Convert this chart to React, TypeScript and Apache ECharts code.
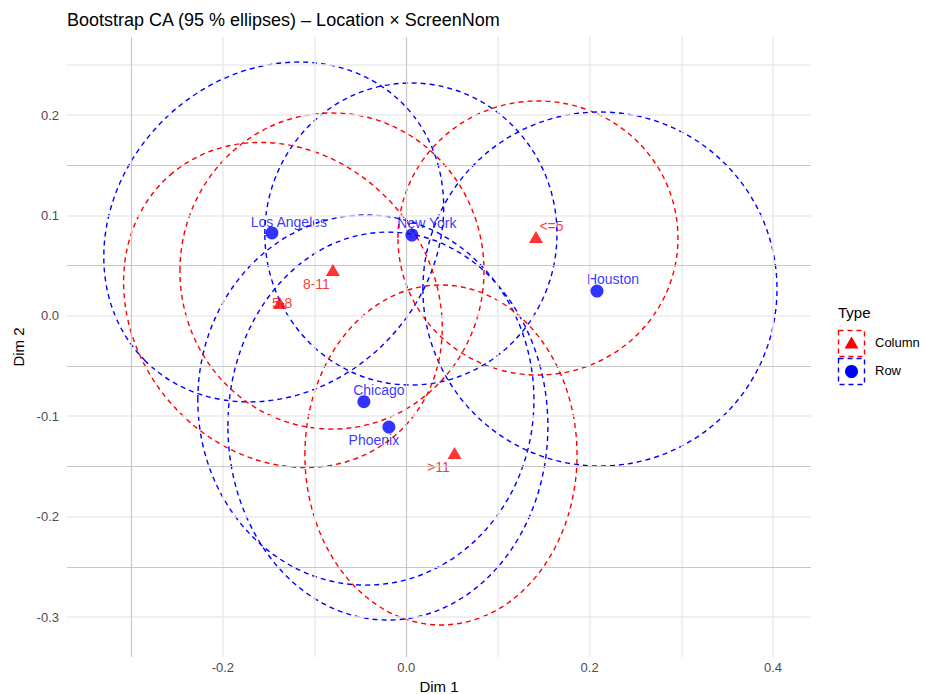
import React, { useEffect, useRef } from 'react';
import * as echarts from 'echarts';

// ---- Data ----
const rowNames = ['Los Angeles', 'New York', 'Houston', 'Chicago', 'Phoenix'];
const rowDim1 = [-0.1465, 0.0062, 0.2081, -0.0462, -0.0189];
const rowDim2 = [0.0825, 0.0805, 0.0247, -0.0855, -0.1108];

const colNames = ['<=5', '8-11', '5-8', '>11'];
const colDim1 = [0.1415, -0.08, -0.138, 0.0527];
const colDim2 = [0.0785, 0.0456, 0.0128, -0.1367];

// 95% bootstrap ellipses: centre, semi-axes (data units), rotation (deg)
const rowEllCx = [-0.1445, 0.0051, 0.2113, -0.044, -0.02];
const rowEllCy = [0.0835, 0.0815, 0.0267, -0.0839, -0.1098];
const rowEllRx = [0.1985, 0.1593, 0.1931, 0.1833, 0.1745];
const rowEllRy = [0.1564, 0.1504, 0.1763, 0.1843, 0.1932];
const rowEllAngle = [45, 0, 0, 0, 0];

const colEllCx = [0.1437, -0.081, -0.1345, 0.0379];
const colEllCy = [0.0775, 0.0446, 0.0108, -0.1386];
const colEllRx = [0.1527, 0.1658, 0.1876, 0.1484];
const colEllRy = [0.1365, 0.1574, 0.1484, 0.1693];
const colEllAngle = [0, 0, -49, 0];

const xTickLabels = [-0.2, 0.0, 0.2, 0.4];
const yTickLabels = [-0.3, -0.2, -0.1, 0.0, 0.1, 0.2];
const gridXLight = [-0.2, -0.1, 0.1, 0.2, 0.3, 0.4];
const gridXDark = [-0.3, 0.0];
const gridYLight = [0.25, 0.2, 0.1, 0.0, -0.1, -0.2, -0.3];
const gridYDark = [0.15, 0.05, -0.05, -0.15, -0.25];

// ---- Layout / style ----
const rowLabelOffsets = [[17, -11], [15, -12], [16, -12], [15, -12], [-15, 13]];
const colLabelOffsets = [[15.5, -11], [-16.5, 14], [2.5, 0], [-16, 14]];
const FONT = "'Liberation Sans', Arial, Helvetica, sans-serif";
const BLUE = '#0000FF';
const RED = '#FF0000';

function ellipseSeries(name: string, color: string, cx: number[], cy: number[], rx: number[], ry: number[], ang: number[]) {
  return {
    type: 'custom',
    name,
    z: 3,
    silent: true,
    clip: true,
    data: cx.map((v, i) => [v, cy[i], rx[i], ry[i], ang[i]]),
    renderItem: (params: any, api: any) => {
      const c = api.coord([api.value(0), api.value(1)]);
      const s = api.size([api.value(2), api.value(3)]);
      return {
        type: 'ellipse',
        x: c[0],
        y: c[1],
        rotation: (api.value(4) * Math.PI) / 180,
        shape: { cx: 0, cy: 0, rx: s[0], ry: s[1] },
        style: { fill: 'none', stroke: color, lineWidth: 1.4, lineDash: [5, 4] },
      };
    },
  };
}

function gridLines(vals: number[], axis: 'xAxis' | 'yAxis', color: string, width: number) {
  return {
    type: 'line',
    data: [],
    z: 1,
    silent: true,
    markLine: {
      silent: true,
      symbol: ['none', 'none'],
      label: { show: false },
      emphasis: { disabled: true },
      animation: false,
      lineStyle: { type: 'solid', color, width },
      data: vals.map((v) => ({ [axis]: v })),
    },
  };
}

export default function App() {
  const ref = useRef<HTMLDivElement>(null);
  useEffect(() => {
    document.body.style.margin = '0';
    const chart = echarts.init(ref.current!, null, { renderer: 'svg' });
    const option: any = {
      animation: false,
      backgroundColor: '#FFFFFF',
      textStyle: { fontFamily: FONT },
      title: {
        text: 'Bootstrap CA (95 % ellipses) – Location × ScreenNom',
        left: 62,
        top: 6,
        textStyle: { fontFamily: FONT, fontSize: 18, fontWeight: 'normal', color: '#000000' },
      },
      grid: { left: 67, right: 114, top: 37, bottom: 37, outerBoundsMode: 'none', containLabel: false },
      xAxis: {
        type: 'value',
        min: -0.37,
        max: 0.4415,
        name: 'Dim 1',
        nameLocation: 'middle',
        nameGap: 19,
        nameTextStyle: { fontFamily: FONT, fontSize: 15, color: '#000000' },
        axisLine: { show: false },
        axisTick: { show: false },
        splitLine: { show: false },
        axisLabel: {
          customValues: xTickLabels,
          formatter: (v: number) => v.toFixed(1),
          fontFamily: FONT,
          fontSize: 13,
          color: '#4D4D4D',
          margin: 4,
        },
      },
      yAxis: {
        type: 'value',
        min: -0.3398,
        max: 0.2777,
        name: 'Dim 2',
        nameLocation: 'middle',
        nameGap: 39,
        nameTextStyle: { fontFamily: FONT, fontSize: 15, color: '#000000' },
        axisLine: { show: false },
        axisTick: { show: false },
        splitLine: { show: false },
        axisLabel: {
          customValues: yTickLabels,
          formatter: (v: number) => v.toFixed(1),
          fontFamily: FONT,
          fontSize: 13,
          color: '#4D4D4D',
          margin: 8,
        },
      },
      series: [
        gridLines(gridXLight, 'xAxis', '#EBEBEB', 1.6),
        gridLines(gridYLight, 'yAxis', '#EBEBEB', 1.6),
        gridLines(gridXDark, 'xAxis', '#C8C8C8', 1.2),
        gridLines(gridYDark, 'yAxis', '#C8C8C8', 1.2),
        ellipseSeries('Row ellipses', BLUE, rowEllCx, rowEllCy, rowEllRx, rowEllRy, rowEllAngle),
        ellipseSeries('Column ellipses', RED, colEllCx, colEllCy, colEllRx, colEllRy, colEllAngle),
        {
          type: 'scatter',
          name: 'Row labels',
          z: 4,
          silent: true,
          symbolSize: 0,
          data: rowNames.map((n, i) => ({
            name: n,
            value: [rowDim1[i], rowDim2[i]],
            label: { offset: rowLabelOffsets[i] },
          })),
          label: {
            show: true,
            position: 'inside',
            formatter: '{b}',
            color: BLUE,
            fontFamily: FONT,
            fontSize: 14,
            align: 'center',
            verticalAlign: 'middle',
          },
        },
        {
          type: 'scatter',
          name: 'Column labels',
          z: 4,
          silent: true,
          symbolSize: 0,
          data: colNames.map((n, i) => ({
            name: n,
            value: [colDim1[i], colDim2[i]],
            label: { offset: colLabelOffsets[i] },
          })),
          label: {
            show: true,
            position: 'inside',
            formatter: '{b}',
            color: RED,
            fontFamily: FONT,
            fontSize: 14,
            align: 'center',
            verticalAlign: 'middle',
          },
        },
        {
          type: 'scatter',
          name: 'Row',
          z: 5,
          silent: true,
          symbol: 'circle',
          symbolSize: 13,
          itemStyle: { color: BLUE },
          data: rowNames.map((n, i) => ({ name: n, value: [rowDim1[i], rowDim2[i]] })),
        },
        {
          type: 'scatter',
          name: 'Column',
          z: 5,
          silent: true,
          symbol: 'triangle',
          symbolSize: [14, 12],
          itemStyle: { color: RED },
          data: colNames.map((n, i) => ({ name: n, value: [colDim1[i], colDim2[i]] })),
        },
      ],
      graphic: [
        { type: 'text', left: 838, top: 305, style: { text: 'Type', fontFamily: FONT, fontSize: 15, fill: '#000000' } },
        { type: 'rect', shape: { x: 838.5, y: 330.5, width: 26, height: 26 }, style: { fill: '#FFFFFF', stroke: RED, lineWidth: 1.4, lineDash: [5, 4] } },
        { type: 'polygon', shape: { points: [[851.5, 336.5], [858.5, 348.5], [844.5, 348.5]] }, style: { fill: RED } },
        { type: 'text', left: 875, top: 336, style: { text: 'Column', fontFamily: FONT, fontSize: 13, fill: '#000000' } },
        { type: 'rect', shape: { x: 838.5, y: 358.5, width: 26, height: 26 }, style: { fill: '#FFFFFF', stroke: BLUE, lineWidth: 1.4, lineDash: [5, 4] } },
        { type: 'circle', shape: { cx: 851.5, cy: 371.5, r: 6.5 }, style: { fill: BLUE } },
        { type: 'text', left: 875, top: 364, style: { text: 'Row', fontFamily: FONT, fontSize: 13, fill: '#000000' } },
      ],
    };
    chart.setOption(option);
    return () => chart.dispose();
  }, []);
  return <div ref={ref} style={{ position: 'absolute', left: 0, top: 0, width: 925, height: 694 }} />;
}
